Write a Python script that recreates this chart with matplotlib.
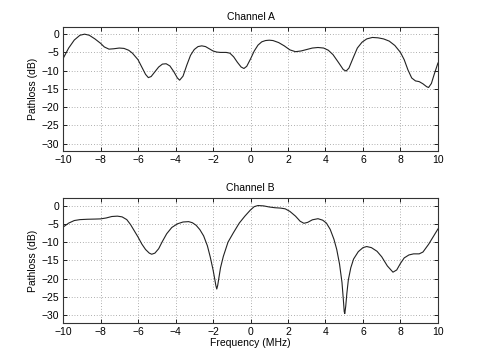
import matplotlib
matplotlib.use("Agg")
import matplotlib.pyplot as plt

# Channel A: frequency (MHz) and pathloss (dB)
freq_a = [-10.0, -9.7, -9.4, -9.1, -8.85, -8.6, -8.3, -8.0, -7.8, -7.55, -7.3, -7.0,
          -6.75, -6.5, -6.3, -6.0, -5.8, -5.6, -5.45, -5.3, -5.1, -4.9, -4.7, -4.5,
          -4.3, -4.1, -3.9, -3.78, -3.6, -3.4, -3.2, -3.0, -2.8, -2.6, -2.4, -2.2,
          -2.0, -1.8, -1.6, -1.3, -1.1, -0.9, -0.7, -0.5, -0.35, -0.2, 0.0, 0.2,
          0.4, 0.6, 0.8, 1.0, 1.2, 1.5, 1.8, 2.1, 2.4, 2.7, 3.0, 3.3, 3.6, 3.9,
          4.15, 4.4, 4.7, 4.95, 5.1, 5.25, 5.5, 5.7, 5.95, 6.2, 6.5, 6.8, 7.1,
          7.4, 7.7, 8.0, 8.2, 8.4, 8.6, 8.8, 9.0, 9.2, 9.4, 9.5, 9.65, 9.8, 10.0]
loss_a = [-6.7, -3.8, -1.6, -0.3, 0.0, -0.3, -1.3, -2.5, -3.5, -4.1, -4.0, -3.8,
          -3.9, -4.4, -5.2, -7.0, -9.0, -11.0, -11.9, -11.6, -10.3, -9.0, -8.2, -8.1,
          -8.7, -10.2, -12.0, -12.6, -11.5, -8.5, -5.8, -4.2, -3.4, -3.2, -3.4, -4.0,
          -4.6, -4.9, -5.0, -5.0, -5.2, -6.2, -7.7, -9.0, -9.4, -8.8, -6.8, -4.6,
          -3.0, -2.1, -1.75, -1.65, -1.75, -2.3, -3.2, -4.3, -4.8, -4.6, -4.2, -3.8, -3.65, -3.8,
          -4.4, -5.6, -7.8, -9.7, -10.1, -9.3, -6.2, -3.8, -2.2, -1.3, -0.9, -1.0, -1.3,
          -1.9, -3.1, -5.0, -7.0, -9.8, -12.0, -12.8, -13.0, -13.6, -14.4, -14.6, -13.5, -11.0, -7.9]

# Channel B
freq_b = [-10.0, -9.7, -9.4, -9.1, -8.7, -8.3, -8.0, -7.7, -7.4, -7.1, -6.85, -6.6,
          -6.4, -6.2, -6.0, -5.8, -5.6, -5.4, -5.27, -5.1, -4.9, -4.7, -4.47, -4.2,
          -3.9, -3.6, -3.3, -3.1, -2.9, -2.7, -2.5, -2.3, -2.15, -2.0, -1.9, -1.85,
          -1.8, -1.75, -1.7, -1.6, -1.45, -1.2, -0.92, -0.6, -0.3, 0.0, 0.2, 0.4,
          0.7, 1.0, 1.3, 1.6, 1.85, 2.1, 2.4, 2.65, 2.85, 3.05, 3.3, 3.6, 3.85, 4.05,
          4.25, 4.45, 4.6, 4.75, 4.88, 4.95, 5.0, 5.03, 5.08, 5.14, 5.22, 5.35, 5.5,
          5.75, 6.0, 6.2, 6.45, 6.75, 7.0, 7.3, 7.6, 7.8, 8.0, 8.2, 8.45, 8.7, 9.0,
          9.2, 9.5, 9.75, 10.0]
loss_b = [-5.9, -4.8, -4.1, -3.85, -3.75, -3.7, -3.65, -3.4, -3.0, -2.9, -3.1, -3.85,
          -5.2, -6.9, -8.6, -10.5, -12.0, -13.0, -13.3, -13.0, -11.8, -9.8, -7.7, -6.0,
          -5.0, -4.5, -4.4, -4.7, -5.4, -6.6, -8.3, -11.0, -14.0, -17.5, -20.3, -21.8,
          -22.8, -21.8, -20.2, -17.0, -13.9, -10.0, -7.5, -4.8, -2.9, -1.2, -0.3, 0.0,
          -0.1, -0.4, -0.6, -0.7, -0.9, -1.6, -2.9, -4.3, -4.85, -4.6, -3.9, -3.6, -4.0, -4.8,
          -6.5, -9.2, -12.0, -16.0, -21.0, -25.5, -29.0, -29.5, -27.5, -24.0, -20.3, -17.0, -14.6,
          -12.6, -11.5, -11.2, -11.5, -12.5, -14.0, -16.5, -18.2, -17.6, -15.8, -14.3, -13.5, -13.2, -13.2,
          -12.7, -10.6, -8.5, -6.4]

titles = ["Channel A", "Channel B"]
xticks = list(range(-10, 11, 2))
yticks = list(range(-30, 1, 5))

plt.rcParams['font.family'] = ['Liberation Sans', 'DejaVu Sans']
plt.rcParams['font.size'] = 7.5

fig = plt.figure(figsize=(4.85, 3.63), dpi=100)
ax_a = fig.add_axes([0.13, 0.584, 0.773, 0.342])
ax_b = fig.add_axes([0.13, 0.111, 0.773, 0.343])

for ax, f, l, t in [(ax_a, freq_a, loss_a, titles[0]), (ax_b, freq_b, loss_b, titles[1])]:
    ax.plot(f, l, color='#222222', lw=0.8)
    ax.set_xlim(-10, 10)
    ax.set_ylim(-32, 2)
    ax.set_xticks(xticks)
    ax.set_yticks(yticks)
    ax.grid(True, linestyle=(0, (1, 3)), color='#666666', lw=0.5)
    ax.tick_params(direction='in', top=True, right=True, length=3, width=0.6,
                   labelsize=7.5, pad=3)
    for s in ax.spines.values():
        s.set_linewidth(0.8)
        s.set_color('#333333')
    ax.set_title(t, fontsize=7.5, pad=5)
    ax.set_ylabel("Pathloss (dB)", fontsize=7.5, labelpad=2)

ax_b.set_xlabel("Frequency (MHz)", fontsize=7.5, labelpad=1)

fig.savefig("out.png", dpi=100)
